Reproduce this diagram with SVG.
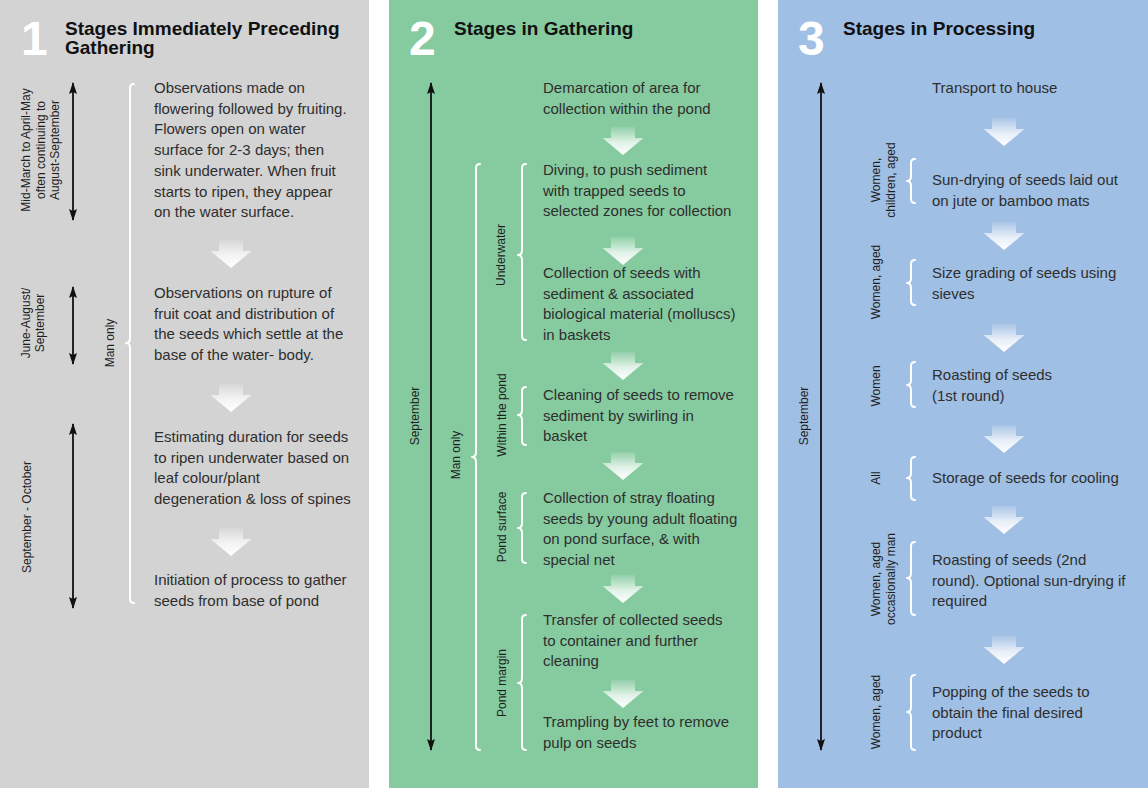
<svg xmlns="http://www.w3.org/2000/svg" width="1148" height="788" viewBox="0 0 1148 788">
<defs>
<linearGradient id="chev" x1="0" y1="0" x2="0" y2="1">
<stop offset="0" stop-color="#ffffff" stop-opacity="0.1"/>
<stop offset="0.55" stop-color="#ffffff" stop-opacity="0.75"/>
<stop offset="1" stop-color="#ffffff" stop-opacity="1"/>
</linearGradient>
<marker id="ah" viewBox="0 0 8 12" refX="4" refY="11" markerWidth="8" markerHeight="12" markerUnits="userSpaceOnUse" orient="auto-start-reverse">
<path d="M0,0 L8,0 L4,12 Z" fill="#111" transform="rotate(0)"/>
</marker>
<marker id="ah2" viewBox="0 0 12 8" refX="11" refY="4" markerWidth="12" markerHeight="8" markerUnits="userSpaceOnUse" orient="auto-start-reverse">
<path d="M0,0 L12,4 L0,8 L2,4 Z" fill="#111"/>
</marker>
<path id="chevron" d="M-12,0 L12,0 L12,11 L20.5,11 L0,28 L-20.5,11 L-12,11 Z"/>
</defs>
<style>
.body{font-family:"Liberation Sans",Arial,Helvetica,sans-serif;font-size:15px;fill:#2e2e2e}
.title{font-family:"Liberation Sans",Arial,Helvetica,sans-serif;font-size:19px;font-weight:bold;fill:#111}
.num{font-family:"Liberation Sans",Arial,Helvetica,sans-serif;font-size:48px;font-weight:bold;fill:#ffffff}
.lab{font-family:"Liberation Sans",Arial,Helvetica,sans-serif;font-size:12px;fill:#1e1e1e;text-anchor:middle}
.vline{stroke:#111;stroke-width:1.8;fill:none;marker-start:url(#ah2);marker-end:url(#ah2)}
.brace{stroke:#ffffff;stroke-width:2;fill:none;stroke-linecap:round;stroke-linejoin:round}
.chev{fill:url(#chev)}
</style>
<rect x="0" y="0" width="1148" height="788" fill="#ffffff"/>
<g id="panel1">
<rect x="0" y="0" width="369" height="788" fill="#d3d3d3"/>
<text class="num" x="21" y="55">1</text>
<text class="title" x="65" y="35">Stages Immediately Preceding</text>
<text class="title" x="65" y="54">Gathering</text>
</g>
<g id="panel2">
<rect x="389" y="0" width="369" height="788" fill="#86cba0"/>
<text class="num" x="409" y="55">2</text>
<text class="title" x="454" y="35">Stages in Gathering</text>
</g>
<g id="panel3">
<rect x="778" y="0" width="370" height="788" fill="#a0bfe4"/>
<text class="num" x="798" y="55">3</text>
<text class="title" x="843" y="35">Stages in Processing</text>
</g>

<g id="connectors">
<line class="vline" x1="73" y1="83" x2="73" y2="220"/>
<line class="vline" x1="73" y1="287" x2="73" y2="364"/>
<line class="vline" x1="73" y1="424" x2="73" y2="608"/>
<line class="vline" x1="431" y1="83" x2="431" y2="750"/>
<line class="vline" x1="821" y1="83" x2="821" y2="750"/>
<g id="chevrons1">
<use href="#chevron" class="chev" x="231" y="240"/>
<use href="#chevron" class="chev" x="231" y="384"/>
<use href="#chevron" class="chev" x="231" y="528"/>
</g>
<g id="chevrons2">
<use href="#chevron" class="chev" x="623" y="127"/>
<use href="#chevron" class="chev" x="623" y="237"/>
<use href="#chevron" class="chev" x="623" y="352"/>
<use href="#chevron" class="chev" x="623" y="452"/>
<use href="#chevron" class="chev" x="623" y="575"/>
<use href="#chevron" class="chev" x="623" y="680"/>
</g>
<g id="chevrons3">
<use href="#chevron" class="chev" x="1004" y="118"/>
<use href="#chevron" class="chev" x="1004" y="222"/>
<use href="#chevron" class="chev" x="1004" y="324"/>
<use href="#chevron" class="chev" x="1004" y="425"/>
<use href="#chevron" class="chev" x="1004" y="506"/>
<use href="#chevron" class="chev" x="1004" y="636"/>
</g>
</g>

<g id="braces">
<path class="brace" d="M134,84 Q130,84 130,88 L130,338 Q130,343 126,343 Q130,343 130,348 L130,599 Q130,603 134,603"/>
<path class="brace" d="M480,164 Q476,164 476,168 L476,452 Q476,457 472,457 Q476,457 476,462 L476,746 Q476,750 480,750"/>
<path class="brace" d="M526,164 Q522,164 522,168 L522,250 Q522,255 518,255 Q522,255 522,260 L522,336 Q522,340 526,340"/>
<path class="brace" d="M526,387 Q522,387 522,391 L522,410 Q522,415 518,415 Q522,415 522,420 L522,441 Q522,445 526,445"/>
<path class="brace" d="M526,493 Q522,493 522,497 L522,523 Q522,528 518,528 Q522,528 522,533 L522,559 Q522,563 526,563"/>
<path class="brace" d="M526,615 Q522,615 522,619 L522,678 Q522,683 518,683 Q522,683 522,688 L522,746 Q522,750 526,750"/>
<path class="brace" d="M915,159 Q911,159 911,163 L911,176 Q911,181 907,181 Q911,181 911,186 L911,199 Q911,203 915,203"/>
<path class="brace" d="M915,260 Q911,260 911,264 L911,278 Q911,283 907,283 Q911,283 911,288 L911,301 Q911,305 915,305"/>
<path class="brace" d="M915,362 Q911,362 911,366 L911,380 Q911,385 907,385 Q911,385 911,390 L911,403 Q911,407 915,407"/>
<path class="brace" d="M915,457 Q911,457 911,461 L911,473 Q911,478 907,478 Q911,478 911,483 L911,496 Q911,500 915,500"/>
<path class="brace" d="M915,542 Q911,542 911,546 L911,573 Q911,578 907,578 Q911,578 911,583 L911,611 Q911,615 915,615"/>
<path class="brace" d="M915,675 Q911,675 911,679 L911,707 Q911,712 907,712 Q911,712 911,717 L911,746 Q911,750 915,750"/>
</g>

<g id="labels">
<text class="lab" transform="translate(30,150) rotate(-90)">Mid-March to April-May</text>
<text class="lab" transform="translate(44.5,150) rotate(-90)">often continuing to</text>
<text class="lab" transform="translate(59,150) rotate(-90)">August-September</text>
<text class="lab" transform="translate(30,323) rotate(-90)">June-August/</text>
<text class="lab" transform="translate(44,323) rotate(-90)">September</text>
<text class="lab" transform="translate(31,517) rotate(-90)">September - October</text>
<text class="lab" transform="translate(114,343) rotate(-90)">Man only</text>
<text class="lab" transform="translate(419,416) rotate(-90)">September</text>
<text class="lab" transform="translate(460,455) rotate(-90)">Man only</text>
<text class="lab" transform="translate(505,255) rotate(-90)">Underwater</text>
<text class="lab" transform="translate(506,415) rotate(-90)">Within the pond</text>
<text class="lab" transform="translate(506,527) rotate(-90)">Pond surface</text>
<text class="lab" transform="translate(506,683) rotate(-90)">Pond margin</text>
<text class="lab" transform="translate(808,416) rotate(-90)">September</text>
<text class="lab" transform="translate(880,180) rotate(-90)">Women,</text>
<text class="lab" transform="translate(895,180) rotate(-90)">children, aged</text>
<text class="lab" transform="translate(880,282) rotate(-90)">Women, aged</text>
<text class="lab" transform="translate(880,386) rotate(-90)">Women</text>
<text class="lab" transform="translate(880,478) rotate(-90)">All</text>
<text class="lab" transform="translate(880,579) rotate(-90)">Women, aged</text>
<text class="lab" transform="translate(895,579) rotate(-90)">occasionally man</text>
<text class="lab" transform="translate(880,712) rotate(-90)">Women, aged</text>
</g>

<g id="n1a"><text class="body" x="154" y="93"><tspan x="154">Observations made on</tspan><tspan x="154" dy="20.7">flowering followed by fruiting.</tspan><tspan x="154" dy="20.7">Flowers open on water</tspan><tspan x="154" dy="20.7">surface for 2-3 days; then</tspan><tspan x="154" dy="20.7">sink underwater. When fruit</tspan><tspan x="154" dy="20.7">starts to ripen, they appear</tspan><tspan x="154" dy="20.7">on the water surface.</tspan></text></g>
<g id="n1b"><text class="body" x="154" y="298"><tspan x="154">Observations on rupture of</tspan><tspan x="154" dy="20.7">fruit coat and distribution of</tspan><tspan x="154" dy="20.7">the seeds which settle at the</tspan><tspan x="154" dy="20.7">base of the water- body.</tspan></text></g>
<g id="n1c"><text class="body" x="154" y="442"><tspan x="154">Estimating duration for seeds</tspan><tspan x="154" dy="20.7">to ripen underwater based on</tspan><tspan x="154" dy="20.7">leaf colour/plant</tspan><tspan x="154" dy="20.7">degeneration &amp; loss of spines</tspan></text></g>
<g id="n1d"><text class="body" x="154" y="585"><tspan x="154">Initiation of process to gather</tspan><tspan x="154" dy="20.7">seeds from base of pond</tspan></text></g>

<g id="n2a"><text class="body" x="543" y="93"><tspan x="543">Demarcation of area for</tspan><tspan x="543" dy="20.7">collection within the pond</tspan></text></g>
<g id="n2b"><text class="body" x="543" y="175"><tspan x="543">Diving, to push sediment</tspan><tspan x="543" dy="20.7">with trapped seeds to</tspan><tspan x="543" dy="20.7">selected zones for collection</tspan></text></g>
<g id="n2c"><text class="body" x="543" y="278"><tspan x="543">Collection of seeds with</tspan><tspan x="543" dy="20.7">sediment &amp; associated</tspan><tspan x="543" dy="20.7">biological material (molluscs)</tspan><tspan x="543" dy="20.7">in baskets</tspan></text></g>
<g id="n2d"><text class="body" x="543" y="400"><tspan x="543">Cleaning of seeds to remove</tspan><tspan x="543" dy="20.7">sediment by swirling in</tspan><tspan x="543" dy="20.7">basket</tspan></text></g>
<g id="n2e"><text class="body" x="543" y="503"><tspan x="543">Collection of stray floating</tspan><tspan x="543" dy="20.7">seeds by young adult floating</tspan><tspan x="543" dy="20.7">on pond surface, &amp; with</tspan><tspan x="543" dy="20.7">special net</tspan></text></g>
<g id="n2f"><text class="body" x="543" y="625"><tspan x="543">Transfer of collected seeds</tspan><tspan x="543" dy="20.7">to container and further</tspan><tspan x="543" dy="20.7">cleaning</tspan></text></g>
<g id="n2g"><text class="body" x="543" y="727"><tspan x="543">Trampling by feet to remove</tspan><tspan x="543" dy="20.7">pulp on seeds</tspan></text></g>

<g id="n3a"><text class="body" x="932" y="93">Transport to house</text></g>
<g id="n3b"><text class="body" x="932" y="185"><tspan x="932">Sun-drying of seeds laid out</tspan><tspan x="932" dy="20.7">on jute or bamboo mats</tspan></text></g>
<g id="n3c"><text class="body" x="932" y="278"><tspan x="932">Size grading of seeds using</tspan><tspan x="932" dy="20.7">sieves</tspan></text></g>
<g id="n3d"><text class="body" x="932" y="380"><tspan x="932">Roasting of seeds</tspan><tspan x="932" dy="20.7">(1st round)</tspan></text></g>
<g id="n3e"><text class="body" x="932" y="483">Storage of seeds for cooling</text></g>
<g id="n3f"><text class="body" x="932" y="565"><tspan x="932">Roasting of seeds (2nd</tspan><tspan x="932" dy="20.7">round). Optional sun-drying if</tspan><tspan x="932" dy="20.7">required</tspan></text></g>
<g id="n3g"><text class="body" x="932" y="697"><tspan x="932">Popping of the seeds to</tspan><tspan x="932" dy="20.7">obtain the final desired</tspan><tspan x="932" dy="20.7">product</tspan></text></g>
</svg>
